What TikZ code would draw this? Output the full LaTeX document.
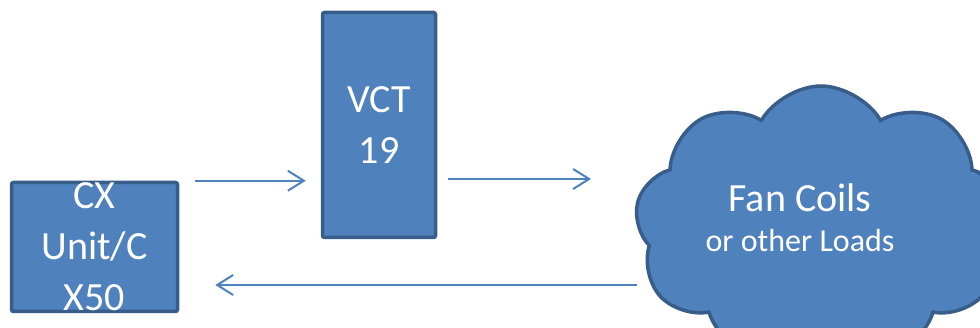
\documentclass[tikz,border=0pt]{standalone}
\usepackage{fontspec}
\setmainfont{Carlito}
\usepackage{tikz}
\usetikzlibrary{arrows.meta,shapes.symbols}
\definecolor{boxblue}{HTML}{4F81BD}
\definecolor{edgeblue}{HTML}{385D8A}

\begin{document}
\begin{tikzpicture}[x=1pt, y=-1pt,
  block/.style={draw=edgeblue, fill=boxblue, line width=3.5pt, rounded corners=2pt, inner sep=0pt},
  blocktext/.style={text=white, align=center, inner sep=0pt, font=\fontsize{40}{51}\selectfont},
  flow/.style={draw=boxblue, line width=2pt, -{Straight Barb[length=16pt,width=20pt,line width=2pt]}}]
\useasboundingbox (0,0) rectangle (980,328);
%%%%% Units %%%%%
\node[block, minimum width=166, minimum height=129] (cx) at (94.5,247) {};
\node[blocktext] (cxlabel) at (cx.center) {CX\\Unit/C\\X50};
\node[block, minimum width=113, minimum height=225] (vct) at (379,125) {};
\node[blocktext] (vctlabel) at (vct.center) {VCT\\19};
%%%%% Loads %%%%%
\node[block, cloud, cloud puffs=9, cloud puff arc=120, cloud ignores aspect,
  rounded corners=0pt, minimum width=372, minimum height=280] (loads) at (821,226) {};
\node[blocktext, font=\fontsize{40}{40}\selectfont] (loadslabel) at (800,218)
  {Fan Coils\\{\fontsize{32}{40}\selectfont or other Loads}};
%%%%% Flow %%%%%
\draw[flow] ([xshift=16pt]cx.north east) -- ([xshift=-15pt]vct.west |- cx.north east);
\coordinate (supplyend) at (591,179);
\draw[flow] (vct.east |- supplyend) ++(11,0) -- (supplyend);
\coordinate (returnstart) at (637,285);
\draw[flow] (returnstart) -- ([xshift=36pt]cx.east |- returnstart);
\end{tikzpicture}
\end{document}
